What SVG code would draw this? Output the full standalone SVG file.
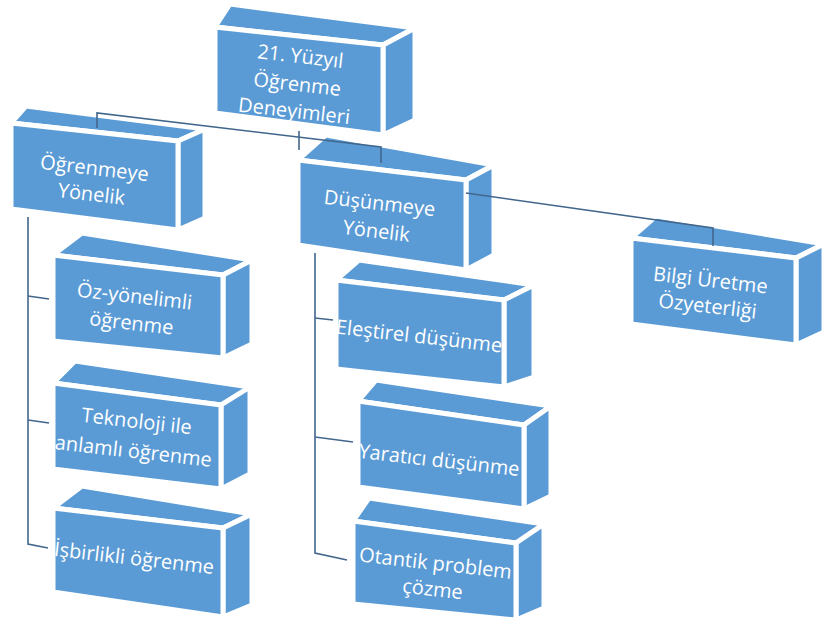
<svg xmlns="http://www.w3.org/2000/svg" width="827" height="626" viewBox="0 0 827 626">
<style>
.f{fill:#5b9bd5;stroke:#ffffff;stroke-width:5;stroke-linejoin:round}
.t{font-family:"Open Sans","Noto Sans","Liberation Sans",sans-serif;font-size:20px;fill:#ffffff;text-anchor:middle}
.c{fill:none;stroke:#42678c;stroke-width:1.6}
</style>
<rect width="827" height="626" fill="#ffffff"/>
<g id="n1">
<polygon class="f" points="215,27 230,4 415,28 383,45"/>
<polygon class="f" points="383,45 415,28 415,120 383,135"/>
<polygon class="f" points="215,27 383,45 383,135 215,113"/>
<g transform="rotate(6.5 297 86)"><text class="t" x="297" y="63">21. Yüzyıl</text><text class="t" x="297" y="91">Öğrenme</text><text class="t" x="297" y="118">Deneyimleri</text></g>
</g>
<g id="n2">
<polygon class="f" points="11,123 26,106 205,129 178,141"/>
<polygon class="f" points="178,141 205,129 205,218 178,230"/>
<polygon class="f" points="11,123 178,141 178,230 11,209"/>
<g transform="rotate(6.5 93 181)"><text class="t" x="93" y="175">Öğrenmeye</text><text class="t" x="93" y="201">Yönelik</text></g>
</g>
<g id="n3">
<polygon class="f" points="298,160 326,135 494,165 466,180"/>
<polygon class="f" points="466,180 494,165 494,255 466,270"/>
<polygon class="f" points="298,160 466,180 466,270 298,245"/>
<g transform="rotate(6.5 378 217)"><text class="t" x="378" y="210">Düşünmeye</text><text class="t" x="378" y="238">Yönelik</text></g>
</g>
<g id="n4">
<polygon class="f" points="631,238 656,216 824,244 796,258"/>
<polygon class="f" points="796,258 824,244 824,332 796,345"/>
<polygon class="f" points="631,238 796,258 796,345 631,324"/>
<g transform="rotate(6.5 709 293)"><text class="t" x="709" y="287">Bilgi Üretme</text><text class="t" x="709" y="313">Özyeterliği</text></g>
</g>
<g id="n5">
<polygon class="f" points="53,255 82,233 252,260 223,275"/>
<polygon class="f" points="223,275 252,260 252,344 223,358"/>
<polygon class="f" points="53,255 223,275 223,358 53,341"/>
<g transform="rotate(6.5 133 310)"><text class="t" x="133" y="303">Öz-yönelimli</text><text class="t" x="133" y="330">öğrenme</text></g>
</g>
<g id="n6">
<polygon class="f" points="53,383 75,361 250,387 221,405"/>
<polygon class="f" points="221,405 250,387 250,474 221,489"/>
<polygon class="f" points="53,383 221,405 221,489 53,469"/>
<g transform="rotate(6.5 135 437)"><text class="t" x="135" y="428">Teknoloji ile</text><text class="t" x="135" y="458">anlamlı öğrenme</text></g>
</g>
<g id="n7">
<polygon class="f" points="53,508 82,486 252,514 223,528"/>
<polygon class="f" points="223,528 252,514 252,605 223,617"/>
<polygon class="f" points="53,508 223,528 223,617 53,592"/>
<g transform="rotate(6.5 134 559)"><text class="t" x="134" y="565">İşbirlikli öğrenme</text></g>
</g>
<g id="n8">
<polygon class="f" points="336,280 359,260 534,285 504,300"/>
<polygon class="f" points="504,300 534,285 534,377 504,387"/>
<polygon class="f" points="336,280 504,300 504,387 336,369"/>
<g transform="rotate(6.5 419 337)"><text class="t" x="419" y="343">Eleştirel düşünme</text></g>
</g>
<g id="n9">
<polygon class="f" points="358,401 376,380 551,406 524,425"/>
<polygon class="f" points="524,425 551,406 551,496 524,509"/>
<polygon class="f" points="358,401 524,425 524,509 358,487"/>
<g transform="rotate(6.5 439 461)"><text class="t" x="439" y="467">Yaratıcı düşünme</text></g>
</g>
<g id="n10">
<polygon class="f" points="353,521 369,498 544,524 516,543"/>
<polygon class="f" points="516,543 544,524 544,608 516,620"/>
<polygon class="f" points="353,521 516,543 516,620 353,604"/>
<g transform="rotate(6.5 434 577)"><text class="t" x="434" y="570">Otantik problem</text><text class="t" x="434" y="596">çözme</text></g>
</g>
<g id="connectors">
<polyline class="c" points="97,128 97,113 381,147 381,163"/>
<line class="c" x1="299" y1="131" x2="299" y2="150"/>
<polyline class="c" points="466,193 713,228 713,246"/>
<polyline class="c" points="28,217 28,544 48,548"/>
<line class="c" x1="28" y1="296" x2="49" y2="299"/>
<line class="c" x1="28" y1="420" x2="49" y2="423"/>
<polyline class="c" points="315,253 315,553 347,560"/>
<line class="c" x1="315" y1="318" x2="333" y2="320"/>
<line class="c" x1="315" y1="437" x2="353" y2="442"/>
</g>
</svg>
